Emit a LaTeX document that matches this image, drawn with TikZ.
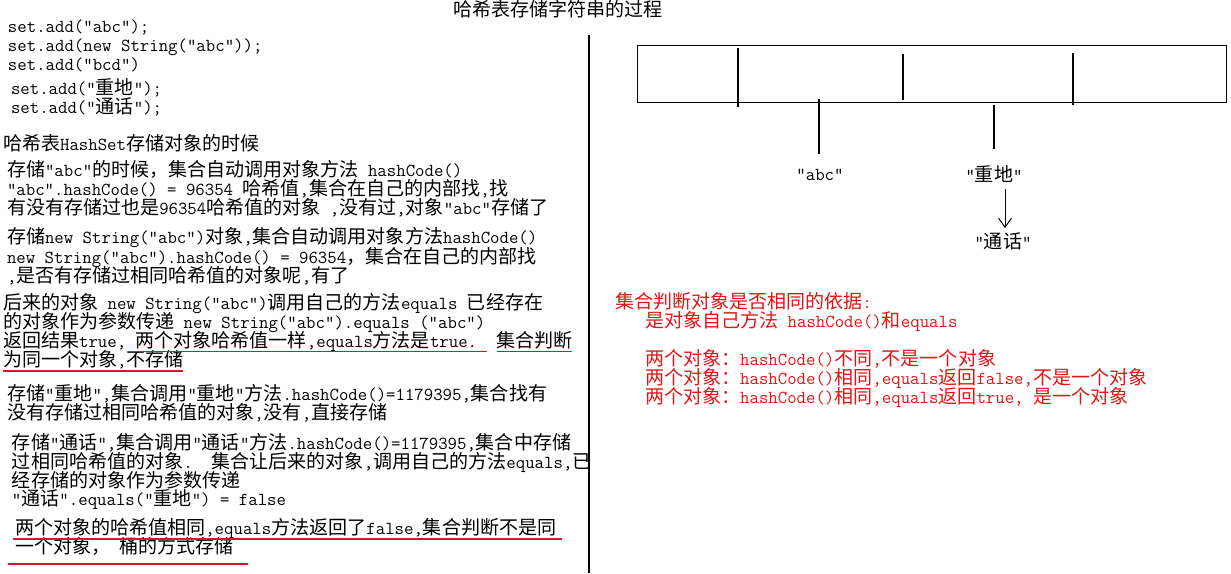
\documentclass[tikz,border=0pt]{standalone}
\usepackage{fontspec}
\newfontfamily\cjkfont{Noto Sans CJK SC}[Scale=1.04]
\usetikzlibrary{arrows.meta}
\XeTeXinterchartokenstate=1
\chardef\CJKcls=100
\newcount\cjkc
\def\setcjkrange#1#2{\cjkc=#1\relax\loop\XeTeXcharclass\cjkc=\CJKcls\relax\ifnum\cjkc<#2\relax\advance\cjkc by 1\relax\repeat}
\setcjkrange{"3000}{"303F}
\setcjkrange{"4E00}{"9FFF}
\setcjkrange{"FF01}{"FF60}
\XeTeXinterchartoks 0 \CJKcls = {\cjkfont}
\XeTeXinterchartoks 4095 \CJKcls = {\cjkfont}
\XeTeXinterchartoks \CJKcls 0 = {\ttfamily}
\XeTeXinterchartoks \CJKcls 4095 = {\ttfamily}
\definecolor{rtcol}{RGB}{228,20,20}
\definecolor{ulcol}{RGB}{200,30,45}
\tikzset{
  txt/.style={anchor=base west, inner sep=0pt, outer sep=0pt},
  rtxt/.style={txt, text=rtcol},
  lbl/.style={anchor=base, inner sep=0pt, outer sep=0pt},
  uline/.style={draw=ulcol, line width=1.1pt},
  thin/.style={draw=black, line width=1.1pt},
  arr/.style={draw=black, line width=1pt, -{Straight Barb[length=9pt,width=13pt]}}
}
\begin{document}
\begin{tikzpicture}[x=1pt,y=-1pt,font=\fontsize{18.3}{22}\selectfont\ttfamily]
\fill[white] (0,0) rectangle (1231,573);
\useasboundingbox (0,0) rectangle (1231,573);

% title
\node[txt] (title) at (453,16) {哈希表存储字符串的过程};

% divider
\coordinate (dv1) at (589,35);
\coordinate (dv2) at (589,573);
\draw[thin] (dv1) -- (dv2);

% code
\node[txt] (c1) at (8,32) {set.add("abc");};
\node[txt] (c2) at (8,51) {set.add(new String("abc"));};
\node[txt] (c3) at (8,70) {set.add("bcd")};
\node[txt] (c4) at (11,94) {set.add("重地");};
\node[txt] (c5) at (11,113) {set.add("通话");};

% left explanation
\node[txt] (l6) at (3,150) {哈希表HashSet存储对象的时候};
\node[txt] (l7) at (7,176) {存储"abc"的时候，集合自动调用对象方法 hashCode()};
\node[txt] (l8) at (7,195.5) {"abc".hashCode() = 96354 哈希值,集合在自己的内部找,找};
\node[txt] (l9) at (7,214) {有没有存储过也是96354哈希值的对象 ,没有过,对象"abc"存储了};
\node[txt] (l10) at (7,243.5) {存储new String("abc")对象,集合自动调用对象方法hashCode()};
\node[txt] (l11) at (7,263) {new String("abc").hashCode() = 96354，集合在自己的内部找};
\node[txt] (l12) at (7,282) {,是否有存储过相同哈希值的对象呢,有了};
\node[txt] (l13) at (3,309.5) {后来的对象 new String("abc")调用自己的方法equals 已经存在};
\node[txt] (l14) at (3,328.5) {的对象作为参数传递 new String("abc").equals ("abc")};
\node[txt] (l15) at (3,347.5) {返回结果true, 两个对象哈希值一样,equals方法是true.\ \ 集合判断};
\node[txt] (l16) at (3,366) {为同一个对象,不存储};
\node[txt] (l17) at (7,400) {存储"重地",集合调用"重地"方法.hashCode()=1179395,集合找有};
\node[txt] (l18) at (7,419) {没有存储过相同哈希值的对象,没有,直接存储};
\node[txt] (l19) at (12,449) {存储"通话",集合调用"通话"方法.hashCode()=1179395,集合中存储};
\node[txt] (l20) at (12,468) {过相同哈希值的对象.\ \ 集合让后来的对象,调用自己的方法equals,已};
\node[txt] (l21) at (12,487) {经存储的对象作为参数传递};
\node[txt] (l22) at (12,505.5) {"通话".equals("重地") = false};
\node[txt] (l23) at (15,534) {两个对象的哈希值相同,equals方法返回了false,集合判断不是同};
\node[txt] (l24) at (15,553) {一个对象，\ 桶的方式存储};

% red underlines
\draw[uline] (135,351.5) -- (487,351.5);
\draw[uline] (497,351.5) -- (572,351.5);
\draw[uline] (3,371) -- (183,371);
\draw[uline] (13,539) -- (562,539);
\draw[uline] (8,564) -- (248,564);

% right: red rules
\node[rtxt] (r1) at (615,308.5) {集合判断对象是否相同的依据:};
\node[rtxt] (r2) at (645,327) {是对象自己方法 hashCode()和equals};
\node[rtxt] (r3) at (645,365) {两个对象：hashCode()不同,不是一个对象};
\node[rtxt] (r4) at (645,384) {两个对象：hashCode()相同,equals返回false,不是一个对象};
\node[rtxt] (r5) at (645,403) {两个对象：hashCode()相同,equals返回true, 是一个对象};

% hash table
\node[draw=black, line width=1.3pt, anchor=north west, minimum width=589pt, minimum height=57pt, inner sep=0pt] (table) at (637,45) {};
\draw[thin] (738,48) -- (738,107);
\draw[thin] (903,54) -- (903,100);
\draw[thin] (1073,53) -- (1073,105);

\node[lbl] (abc) at (820,180) {"abc"};
\node[lbl] (zd) at (994,181) {"重地"};
\node[lbl] (th) at (1003,248) {"通话"};

\coordinate (s1a) at (819,99);
\coordinate (s1b) at (819,154);
\draw[thin] (s1a) -- (s1b);
\coordinate (s2a) at (994,105);
\coordinate (s2b) at (994,149);
\draw[thin] (s2a) -- (s2b);
\coordinate (a1) at (1005,189);
\coordinate (a2) at (1005,228);
\draw[arr] (a1) -- (a2);
\end{tikzpicture}
\end{document}
